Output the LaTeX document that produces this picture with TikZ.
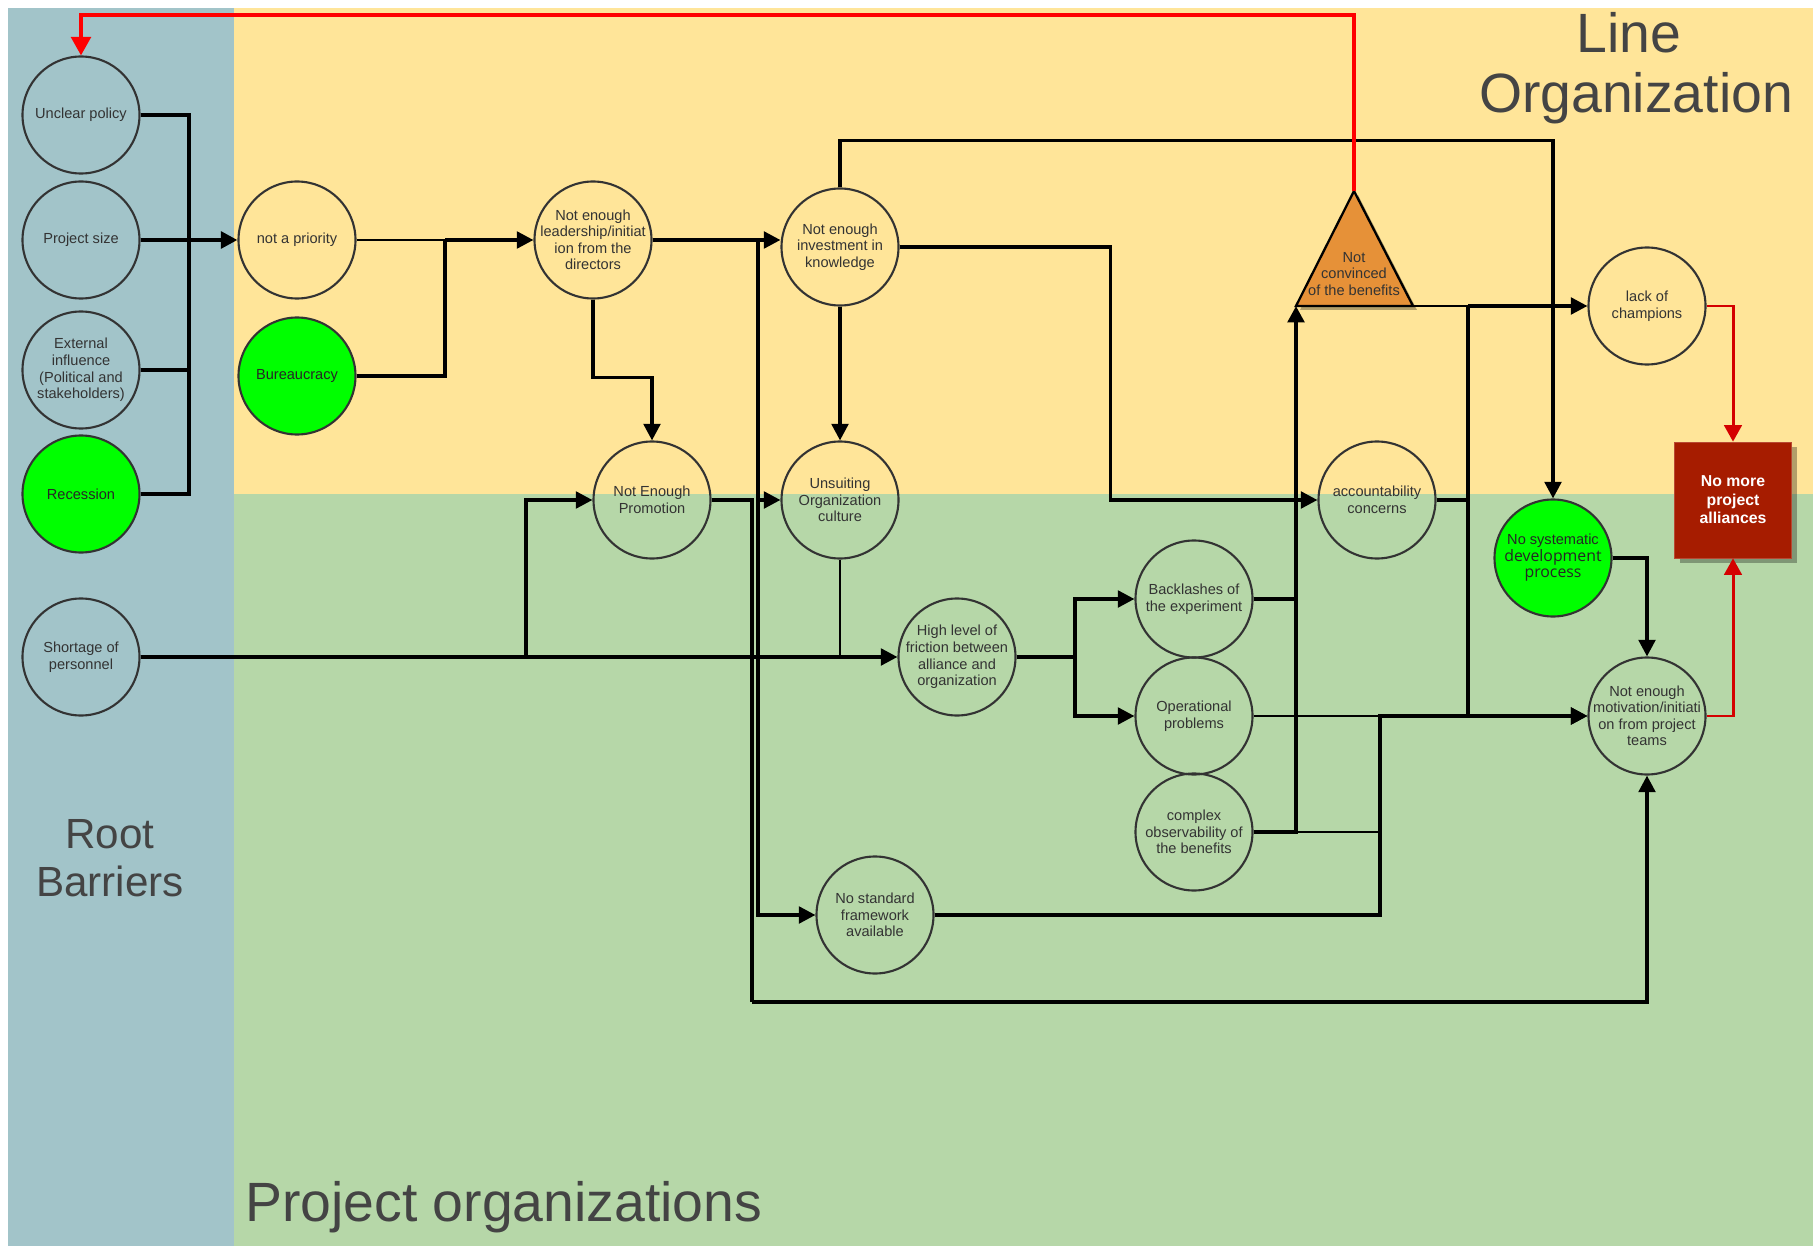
\documentclass[tikz,border=0pt]{standalone}
\usepackage{fontspec}
\setmainfont{Liberation Sans}
\newfontfamily\opensans{Open Sans}
\usetikzlibrary{arrows.meta,shadows}

\definecolor{rootblue}{HTML}{A2C4C9}
\definecolor{lineyellow}{HTML}{FFE599}
\definecolor{projgreen}{HTML}{B6D7A8}
\definecolor{brightgreen}{HTML}{00FF00}
\definecolor{doubtorange}{HTML}{E69138}
\definecolor{stopred}{HTML}{A61C00}
\definecolor{alarmred}{HTML}{D40000}
\definecolor{inkgray}{HTML}{333333}
\definecolor{titlegray}{HTML}{444444}

\tikzset{
	barrier/.style={circle, draw=inkgray, line width=1.2pt, minimum size=23.4mm, inner sep=-2mm, align=center, text=inkgray, font=\fontsize{8.3}{9.4}\selectfont},
	rootcause/.style={barrier, fill=brightgreen, text=black!85},
	outcome/.style={rectangle, fill=stopred, draw=stopred!80!white, minimum width=23.4mm, minimum height=23.2mm, align=center, text=white, font=\bfseries\fontsize{9}{10.5}\selectfont, drop shadow={shadow xshift=1mm, shadow yshift=-1mm, fill=black, opacity=0.3}},
	rail/.style={line width=2pt},
	wire/.style={line width=1.3pt},
	flow/.style={rail, -{Triangle[length=3.3mm,width=3.3mm]}},
	alarm/.style={draw=alarmred, line width=1.7pt, -{Triangle[length=3.3mm,width=3.5mm]}},
	feedback/.style={draw=red, line width=2.2pt, -{Triangle[length=3.7mm,width=3.9mm]}},
	zonetitle/.style={text=titlegray, inner sep=0pt, font=\fontsize{31.5}{34}\selectfont}
}

\begin{document}
\begin{tikzpicture}[x=0.2mm, y=-0.2mm]
	\useasboundingbox (0,0) rectangle (1813,1246);
	\fill[rootblue] (8,8) rectangle (234,1246);
	\fill[lineyellow] (234,8) rectangle (1813,494);
	\fill[projgreen] (234,494) rectangle (1813,1246);

	\node[zonetitle, anchor=base] (lineA) at (1629,53) {Line};
	\node[zonetitle, anchor=base] (lineB) at (1636,113) {Organization};
	\node[zonetitle, anchor=base, font=\fontsize{24}{27}\selectfont] (rootA) at (110,848) {Root};
	\node[zonetitle, anchor=base, font=\fontsize{24}{27}\selectfont] (rootB) at (110,896) {Barriers};
	\node[zonetitle, anchor=base west] (projA) at (245,1221) {Project organizations};

	\node[barrier] (unclear) at (81,115) {Unclear policy};
	\node[barrier] (project) at (81,240) {Project size};
	\node[barrier] (external) at (81,370) {External\\influence\\(Political and\\stakeholders)};
	\node[rootcause] (recession) at (81,494) {Recession};
	\node[barrier] (shortage) at (81,657) {Shortage of\\personnel};
	\node[barrier] (notprio) at (297,240) {not a priority};
	\node[rootcause] (bureau) at (297,376) {Bureaucracy};
	\node[barrier] (leader) at (593,240) {Not enough\\leadership/initiat\\ion from the\\directors};
	\node[barrier] (promo) at (652,500) {Not Enough\\Promotion};
	\node[barrier] (invest) at (840,247) {Not enough\\investment in\\knowledge};
	\node[barrier] (unsuit) at (840,500) {Unsuiting\\Organization\\culture};
	\node[barrier] (friction) at (957,657) {High level of\\friction between\\alliance and\\organization};
	\node[barrier] (nostd) at (875,915) {No standard\\framework\\available};
	\node[barrier] (backlash) at (1194,599) {Backlashes of\\the experiment};
	\node[barrier] (operational) at (1194,716) {Operational\\problems};
	\node[barrier] (complex) at (1194,832) {complex\\observability of\\the benefits};
	\node[barrier] (account) at (1377,500) {accountability\\concerns};
	\node[barrier] (champions) at (1647,306) {lack of\\champions};
	\node[rootcause] (nosys) at (1553,558) {No systematic\\{\opensans\fontsize{9}{10.4}\selectfont development}\\{\opensans\fontsize{9}{10.4}\selectfont process}};
	\node[barrier] (motiv) at (1647,716) {Not enough\\motivation/initiati\\on from project\\teams};
	\node[outcome] (alliances) at (1733,500) {No more\\project\\alliances};

	\draw[fill=doubtorange, line width=1.3pt, drop shadow={shadow xshift=0.8mm, shadow yshift=-0.8mm, fill=black, opacity=0.3}] (1296,306) coordinate (tril) -- (1354,191) coordinate (trit) -- (1413,306) coordinate (trir) -- cycle;
	\node[align=center, text=inkgray, font=\fontsize{8.3}{9.4}\selectfont] (convinced) at (1354,274) {Not\\convinced\\of the benefits};

	\coordinate (bus) at (189,240);
	\coordinate (j1) at (445,240);
	\coordinate (j2) at (758,240);
	\coordinate (j3) at (526,657);
	\coordinate (j4) at (1075,657);
	\coordinate (j5) at (1296,599);
	\coordinate (j6) at (1380,716);
	\coordinate (j7) at (1468,306);
	\coordinate (j8) at (752,1002);

	\draw[rail] (unclear.east) -| (bus);
	\draw[rail] (external.east) -| (bus);
	\draw[rail] (recession.east) -| (bus);
	\draw[rail] (project.east) -- (bus);
	\draw[flow, line width=2.8pt] (bus) -- (notprio.west);

	\draw[wire] (notprio.east) -- (j1);
	\draw[rail] (bureau.east) -| (j1);
	\draw[flow] (j1) -- (leader.west);

	\draw[flow] (leader.east) -- (leader.east -| invest.west);
	\draw[flow] (j2) |- (unsuit.west);
	\draw[flow] (j2) |- (nostd.west);
	\draw[flow] (leader.south) -- ++(0,78) -| (promo.north);

	\draw[flow] (invest.south) -- (unsuit.north);
	\draw[flow] (invest.north) -- ++(0,-47) -| (nosys.north);
	\draw[flow] (invest.east) -- ++(211,0) |- (account.west);

	\draw[flow] (shortage.east) -- (friction.west);
	\draw[rail, line width=2.8pt] (shortage.east) -- (j3);
	\draw[flow] (j3) |- (promo.west);
	\draw[wire] (unsuit.south) -- (unsuit.south |- shortage);

	\draw[rail] (promo.east) -| (j8);
	\draw[flow] (j8) -| (motiv.south);

	\draw[rail] (friction.east) -- (j4);
	\draw[flow] (j4) |- (backlash.west);
	\draw[flow] (j4) |- (operational.west);

	\draw[rail, line width=2.8pt] (backlash.east) -- (j5);
	\draw[flow, line width=2.8pt] (j5) -- (tril);
	\draw[rail] (complex.east) -| (j5);
	\draw[wire] (complex.east) -- (complex.east -| j6);
	\draw[wire] (operational.east) -- (j6);
	\draw[flow] (nostd.east) -| (j6) -- (motiv.west);

	\draw[wire] (trir) -- (j7);
	\draw[flow] (j7) -- (champions.west);
	\draw[flow] (j7) |- (motiv.west);
	\draw[rail] (account.east) -- (account.east -| j7);
	\draw[flow] (nosys.east) -| (motiv.north);

	\draw[feedback] (trit) -- ++(0,-176) -| (unclear.north);
	\draw[alarm] (champions.east) -| (alliances.north);
	\draw[alarm] (motiv.east) -| (alliances.south);
\end{tikzpicture}
\end{document}
